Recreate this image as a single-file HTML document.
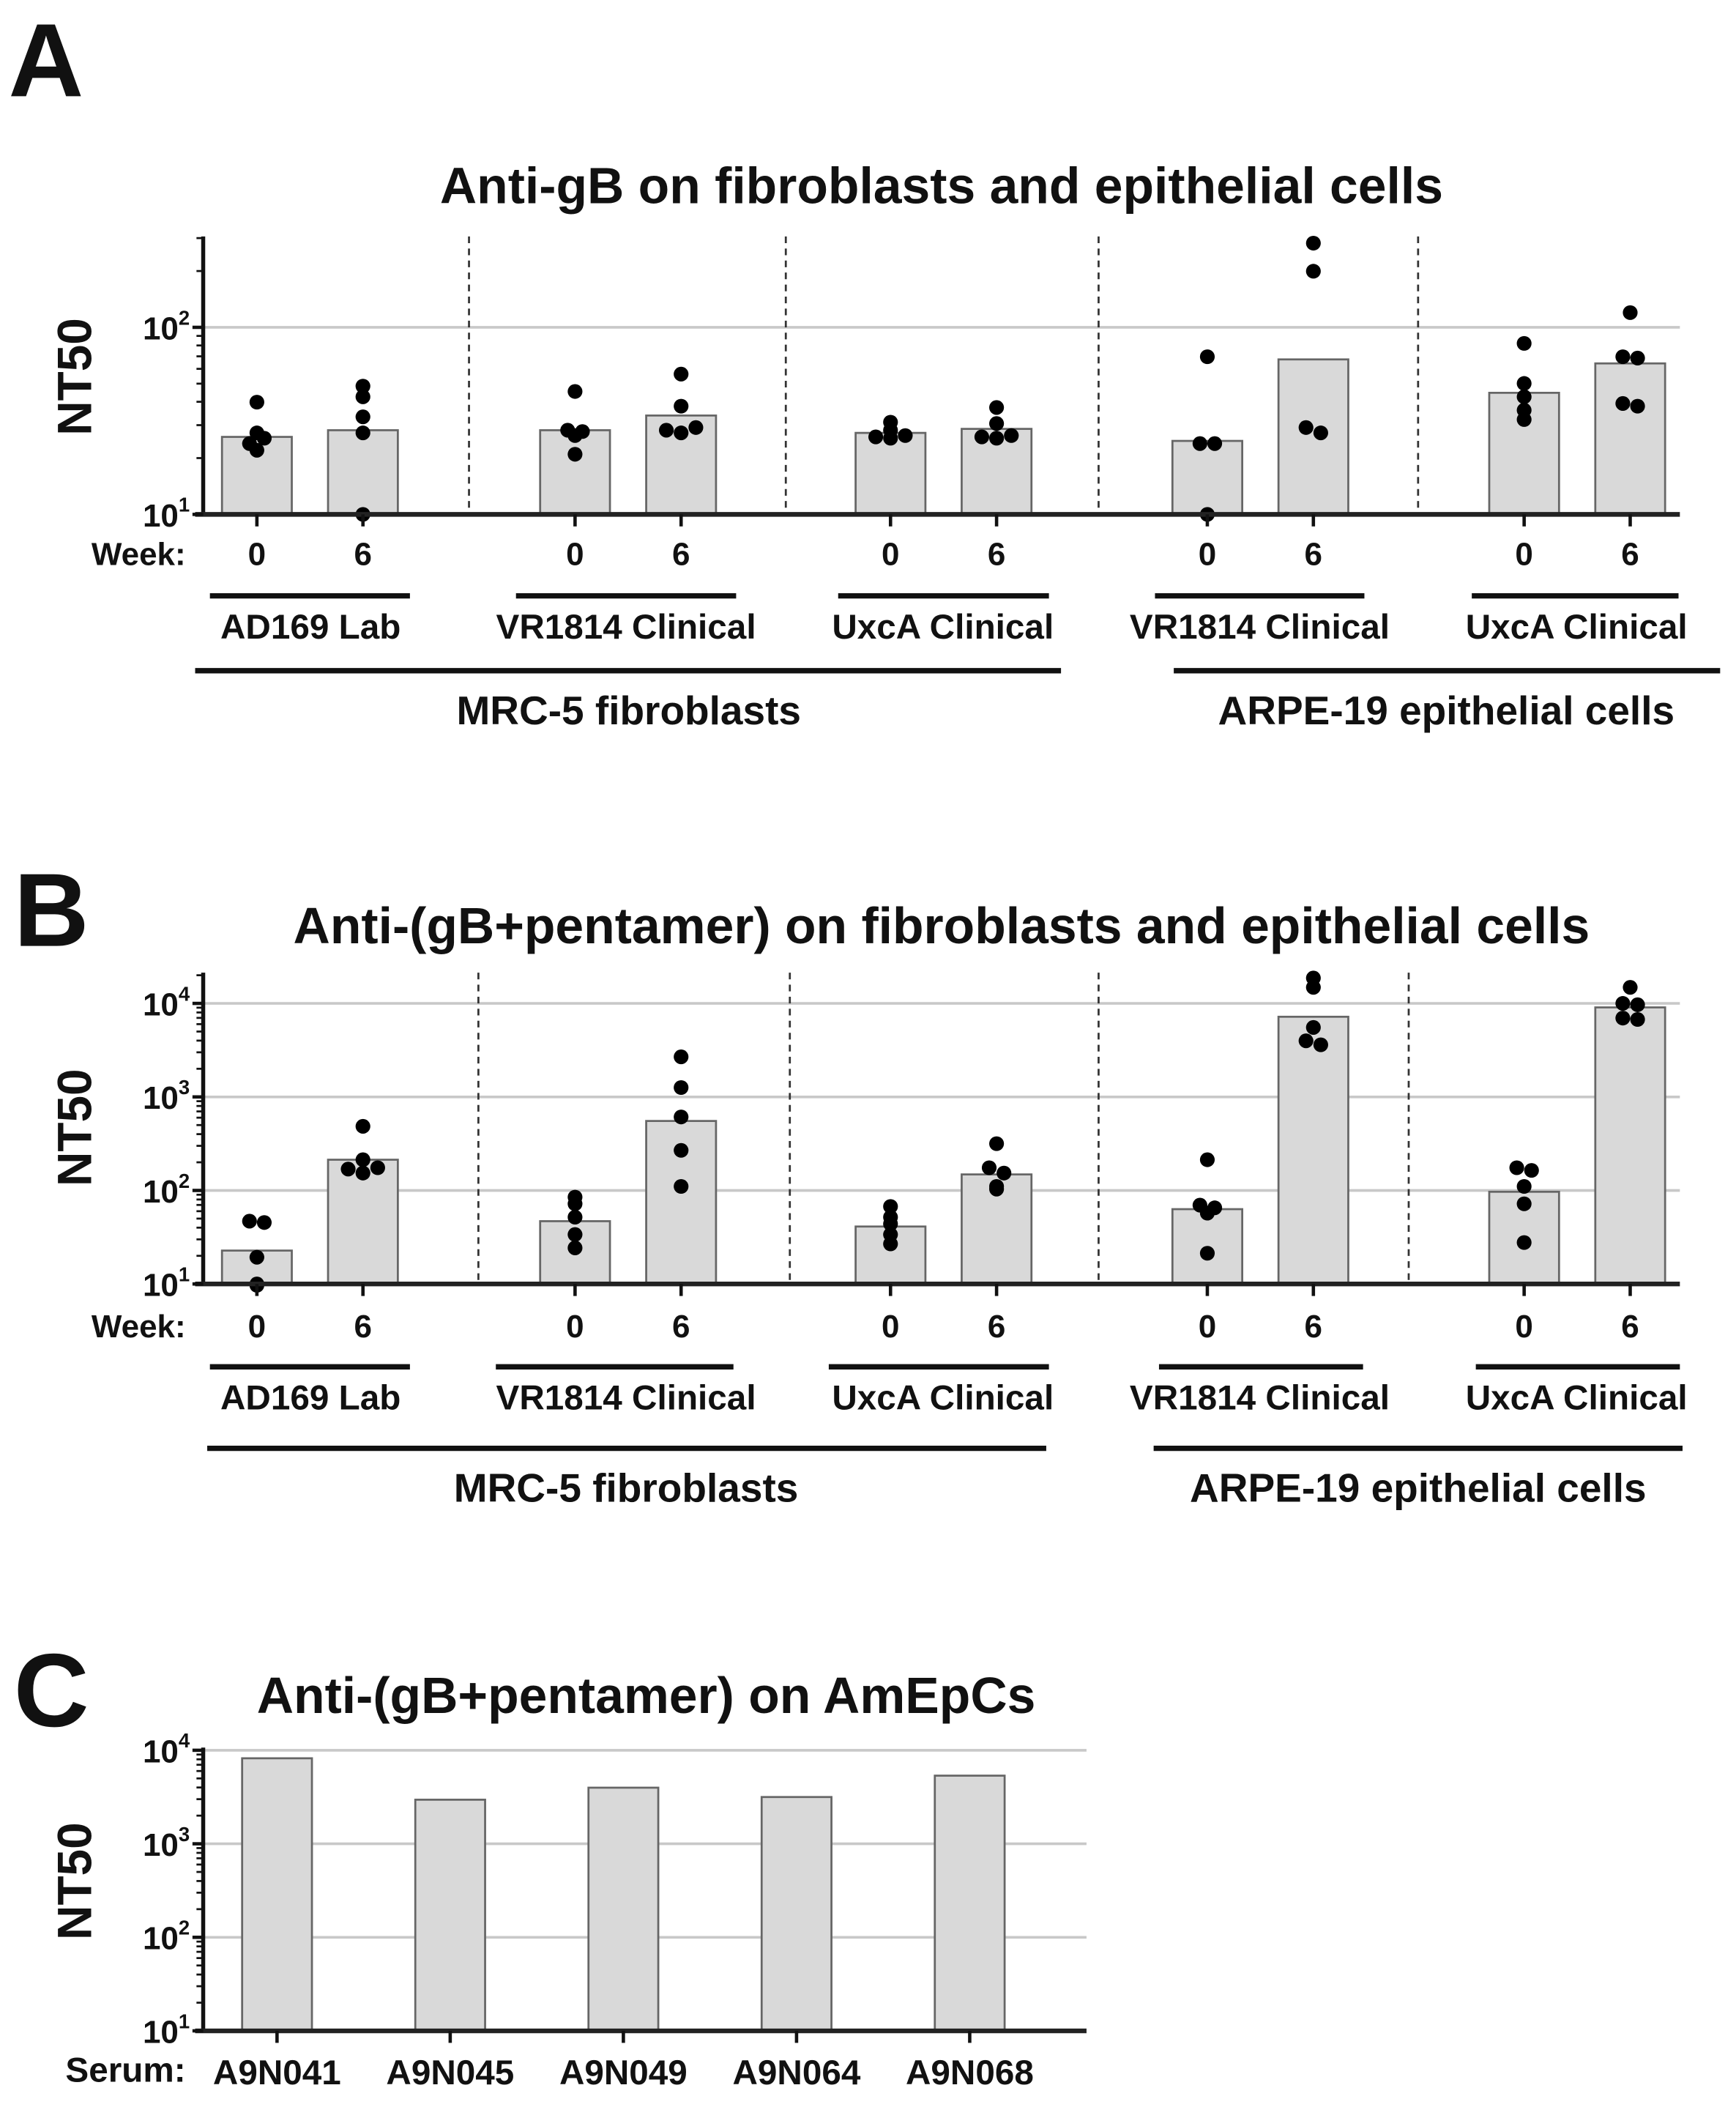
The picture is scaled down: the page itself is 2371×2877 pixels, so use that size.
<!DOCTYPE html>
<html><head><meta charset="utf-8"><style>
html,body{margin:0;padding:0;background:#fff;}
svg{display:block;}
text{font-family:"Liberation Sans",Arial,sans-serif;font-weight:bold;fill:#111;}
</style></head><body>
<svg id="s" width="2371" height="2877" viewBox="0 0 1299 1577" xmlns="http://www.w3.org/2000/svg">
<text x="6" y="72" font-size="78">A</text>
<text x="10" y="708" font-size="78">B</text>
<text x="10" y="1292" font-size="78">C</text>
<text transform="translate(68,282) rotate(-90)" font-size="36" text-anchor="middle">NT50</text>
<text transform="translate(68,844) rotate(-90)" font-size="36" text-anchor="middle">NT50</text>
<text transform="translate(68,1408) rotate(-90)" font-size="36" text-anchor="middle">NT50</text>

<g id="gA" transform="matrix(1.005,0,0,1,1.05,2)">
<text x="700" y="150" font-size="38" text-anchor="middle">Anti-gB on fibroblasts and epithelial cells</text>
<text x="140" y="252" font-size="24" text-anchor="end">10<tspan font-size="15" dy="-11">2</tspan></text>
<text x="140" y="392" font-size="24" text-anchor="end">10<tspan font-size="15" dy="-11">1</tspan></text>
<text x="137" y="421" text-anchor="end" font-size="24">Week:</text>
<text x="190" y="421" text-anchor="middle" font-size="24">0</text><text x="269" y="421" text-anchor="middle" font-size="24">6</text>
<text x="427" y="421" text-anchor="middle" font-size="24">0</text><text x="506" y="421" text-anchor="middle" font-size="24">6</text>
<text x="662" y="421" text-anchor="middle" font-size="24">0</text><text x="741" y="421" text-anchor="middle" font-size="24">6</text>
<text x="898" y="421" text-anchor="middle" font-size="24">0</text><text x="977" y="421" text-anchor="middle" font-size="24">6</text>
<text x="1134" y="421" text-anchor="middle" font-size="24">0</text><text x="1213" y="421" text-anchor="middle" font-size="24">6</text>
<text x="230" y="476" text-anchor="middle" font-size="26">AD169 Lab</text>
<text x="465" y="476" text-anchor="middle" font-size="26">VR1814 Clinical</text>
<text x="701" y="476" text-anchor="middle" font-size="26">UxcA Clinical</text>
<text x="937" y="476" text-anchor="middle" font-size="26">VR1814 Clinical</text>
<text x="1173" y="476" text-anchor="middle" font-size="26">UxcA Clinical</text>
<text x="467" y="540" text-anchor="middle" font-size="30">MRC-5 fibroblasts</text>
<text x="1076" y="540" text-anchor="middle" font-size="30">ARPE-19 epithelial cells</text>
</g>

<g id="gB" transform="matrix(1.005,0,0,1,1.05,6)">
<text x="700" y="700" font-size="38" text-anchor="middle">Anti-(gB+pentamer) on fibroblasts and epithelial cells</text>
<text x="140" y="754" font-size="24" text-anchor="end">10<tspan font-size="15" dy="-11">4</tspan></text>
<text x="140" y="824" font-size="24" text-anchor="end">10<tspan font-size="15" dy="-11">3</tspan></text>
<text x="140" y="894" font-size="24" text-anchor="end">10<tspan font-size="15" dy="-11">2</tspan></text>
<text x="140" y="964" font-size="24" text-anchor="end">10<tspan font-size="15" dy="-11">1</tspan></text>
<text x="137" y="995" text-anchor="end" font-size="24">Week:</text>
<text x="190" y="995" text-anchor="middle" font-size="24">0</text><text x="269" y="995" text-anchor="middle" font-size="24">6</text>
<text x="427" y="995" text-anchor="middle" font-size="24">0</text><text x="506" y="995" text-anchor="middle" font-size="24">6</text>
<text x="662" y="995" text-anchor="middle" font-size="24">0</text><text x="741" y="995" text-anchor="middle" font-size="24">6</text>
<text x="898" y="995" text-anchor="middle" font-size="24">0</text><text x="977" y="995" text-anchor="middle" font-size="24">6</text>
<text x="1134" y="995" text-anchor="middle" font-size="24">0</text><text x="1213" y="995" text-anchor="middle" font-size="24">6</text>
<text x="230" y="1049" text-anchor="middle" font-size="26">AD169 Lab</text>
<text x="465" y="1049" text-anchor="middle" font-size="26">VR1814 Clinical</text>
<text x="701" y="1049" text-anchor="middle" font-size="26">UxcA Clinical</text>
<text x="937" y="1049" text-anchor="middle" font-size="26">VR1814 Clinical</text>
<text x="1173" y="1049" text-anchor="middle" font-size="26">UxcA Clinical</text>
<text x="465" y="1118" text-anchor="middle" font-size="30">MRC-5 fibroblasts</text>
<text x="1055" y="1118" text-anchor="middle" font-size="30">ARPE-19 epithelial cells</text>
</g>

<g id="gC" transform="matrix(1.005,0,0,1,1.05,8)">
<text x="480" y="1274" font-size="38" text-anchor="middle">Anti-(gB+pentamer) on AmEpCs</text>
<text x="140" y="1311" font-size="24" text-anchor="end">10<tspan font-size="15" dy="-11">4</tspan></text>
<text x="140" y="1381" font-size="24" text-anchor="end">10<tspan font-size="15" dy="-11">3</tspan></text>
<text x="140" y="1451" font-size="24" text-anchor="end">10<tspan font-size="15" dy="-11">2</tspan></text>
<text x="140" y="1521" font-size="24" text-anchor="end">10<tspan font-size="15" dy="-11">1</tspan></text>
<text x="137" y="1550" text-anchor="end" font-size="26">Serum:</text>
<text x="205" y="1552" text-anchor="middle" font-size="26">A9N041</text>
<text x="334" y="1552" text-anchor="middle" font-size="26">A9N045</text>
<text x="463" y="1552" text-anchor="middle" font-size="26">A9N049</text>
<text x="592" y="1552" text-anchor="middle" font-size="26">A9N064</text>
<text x="721" y="1552" text-anchor="middle" font-size="26">A9N068</text>
</g>
</svg>
<script>
(function(){
var NS='http://www.w3.org/2000/svg',g;
function grp(id){var p=document.getElementById(id);var e=document.createElementNS(NS,'g');p.insertBefore(e,p.firstChild);return e;}
function el(t,a){var e=document.createElementNS(NS,t);for(var k in a)e.setAttribute(k,a[k]);g.appendChild(e);return e;}
function line(x1,y1,x2,y2,w,c,d){var o={x1:x1,y1:y1,x2:x2,y2:y2,stroke:c||'#111','stroke-width':w||2};if(d)o['stroke-dasharray']=d;el('line',o);}
function panel(top,bot,dec,grids,xEnd,seps,bars,dots,xt){
  grids.forEach(function(y){line(150,y,xEnd,y,2,'#c8c8c8');});
  seps.forEach(function(x){line(x,top,x,bot,1.5,'#333','5,4');});
  bars.forEach(function(b){el('rect',{x:b[0]-26,y:b[1],width:52,height:bot-b[1],fill:'#d9d9d9',stroke:'#666','stroke-width':1.5});});
  dots.forEach(function(d){var x=d[0],ys=d[1];var cnt={};ys.forEach(function(y){var k=Math.round(y/8);cnt[k]=(cnt[k]||0)+1;});
    var seen={};ys.forEach(function(y){var k=Math.round(y/8);var n=cnt[k];var i=seen[k]||0;seen[k]=i+1;var off=n>1?(i-(n-1)/2)*11:0;el('circle',{cx:x+off,cy:y,r:5.5,fill:'#000'});});});
  line(150,top,150,bot+1,3);
  line(144,bot,xEnd,bot,3.5,'#222');
  for(var y=bot;y>=top-1;y-=dec){line(142,y,150,y,2.5);}
  for(var base=bot;base>top;base-=dec){for(var m=2;m<=9;m++){var yy=base-dec*Math.log10(m);if(yy>=top)line(145,yy,150,yy,1.5);}}
  xt.forEach(function(x){line(x,bot,x,bot+9,2.5);});
}
var X=[190,269,427,506,662,741,898,977,1134,1213];
g=grp('gA');
panel(175,383,140,[243],1250,[348,584,817,1055],
 [[190,325],[269,320],[427,320],[506,309],[662,322],[741,319],[898,328],[977,267],[1134,292],[1213,270]],
 [[190,[299,322,335,330,326]],[269,[287,295,310,322,383]],[427,[291,320,324,338,321]],[506,[278,302,320,322,318]],
  [662,[314,320,325,326,324]],[741,[303,315,325,326,324]],[898,[265,330,330,383]],[977,[180,201,318,322]],
  [1134,[255,285,295,305,312]],[1213,[232,265,266,300,302]]],X);
[[155,304],[383,547],[623,780],[859,1015],[1095,1249]].forEach(function(a){line(a[0],444,a[1],444,4);});
[[144,789],[873,1280]].forEach(function(a){line(a[0],500,a[1],500,4);});
g=grp('gB');
panel(722,955,70,[745,815,885],1250,[355,587,817,1048],
 [[190,930],[269,862],[427,908],[506,833],[662,912],[741,873],[898,899],[977,755],[1134,886],[1213,748]],
 [[190,[908,909,935,955,956]],[269,[837,862,869,872,868]],[427,[890,895,905,918,928]],[506,[785,808,830,855,882]],
  [662,[897,905,910,918,925]],[741,[850,868,872,882,884]],[898,[862,896,898,902,932]],[977,[726,733,763,773,776]],
  [1134,[868,870,882,895,924]],[1213,[733,745,746,756,757]]],X);
[[155,304],[368,545],[616,780],[862,1014],[1098,1250]].forEach(function(a){line(a[0],1017,a[1],1017,4);});
[[153,778],[858,1252]].forEach(function(a){line(a[0],1078,a[1],1078,4);});
g=grp('gC');
panel(1300,1512,70,[1302,1372,1442],808,[],
 [[205,1308],[334,1339],[463,1330],[592,1337],[721,1321]],[],[205,334,463,592,721]);
})();
</script>
</body></html>
